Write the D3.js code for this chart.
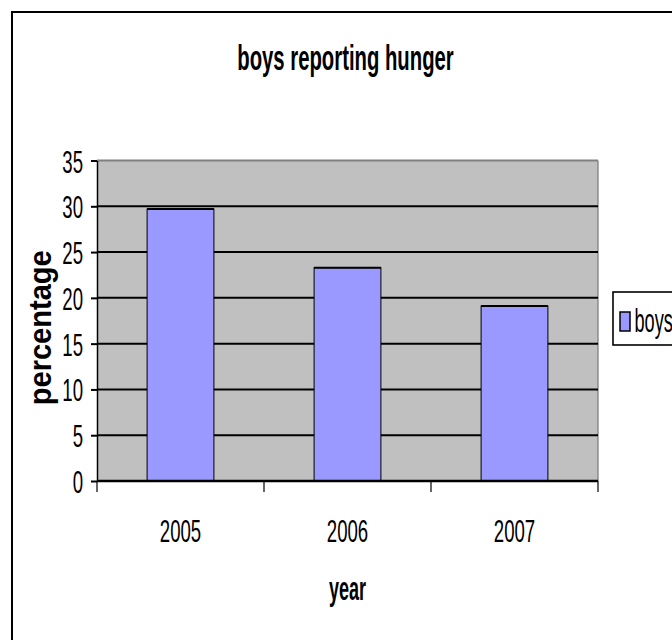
<!DOCTYPE html>
<html>
<head>
<meta charset="utf-8">
<script src="https://cdn.jsdelivr.net/npm/d3@7"></script>
<style>
  html, body { margin: 0; padding: 0; background: #fff; }
  svg { display: block; }
  text { font-family: "Liberation Sans", Arial, sans-serif; fill: #000; }
</style>
</head>
<body>
<script>
// Share of boys reporting hunger, by survey year
const years = ["2005", "2006", "2007"];
const boys = [29.7, 23.3, 19.1];
const yTicks = [0, 5, 10, 15, 20, 25, 30, 35];
const seriesName = "boys";

const W = 672, H = 640;
const plot = { left: 97, right: 598, top: 160.5, bottom: 481 };

const svg = d3.select("body").append("svg")
  .attr("width", W).attr("height", H);

// chart frame (right and bottom edges fall outside the page)
svg.append("rect")
  .attr("x", 12).attr("y", 12).attr("width", 760).attr("height", 700)
  .attr("fill", "#fff").attr("stroke", "#000").attr("stroke-width", 2);

const x = d3.scaleBand().domain(years)
  .range([plot.left, plot.right])
  .paddingInner(0.6).paddingOuter(0.3);
const y = d3.scaleLinear().domain([0, 35]).range([plot.bottom, plot.top]);

// plot background
svg.append("rect")
  .attr("x", plot.left).attr("y", plot.top)
  .attr("width", plot.right - plot.left).attr("height", plot.bottom - plot.top)
  .attr("fill", "#C0C0C0");
// grey top and right border of the plot area
svg.append("line").attr("x1", plot.left).attr("x2", plot.right)
  .attr("y1", y(35)).attr("y2", y(35))
  .attr("stroke", "#808080").attr("stroke-width", 2);
svg.append("line").attr("x1", plot.right).attr("x2", plot.right)
  .attr("y1", plot.top).attr("y2", plot.bottom)
  .attr("stroke", "#808080").attr("stroke-width", 1.3);

// horizontal gridlines
svg.append("g").selectAll("line")
  .data(yTicks.filter(v => v > 0 && v < 35))
  .join("line")
  .attr("x1", plot.left).attr("x2", plot.right)
  .attr("y1", d => y(d)).attr("y2", d => y(d))
  .attr("stroke", "#000").attr("stroke-width", 2);

// bars
const barData = years.map((yr, i) => ({ yr, v: boys[i] }));
const bars = svg.append("g");
bars.selectAll("rect")
  .data(barData)
  .join("rect")
  .attr("x", d => x(d.yr))
  .attr("y", d => y(d.v))
  .attr("width", x.bandwidth())
  .attr("height", d => y(0) - y(d.v))
  .attr("fill", "#9999FF")
  .attr("stroke", "#000").attr("stroke-width", 1);
bars.selectAll("line")
  .data(barData)
  .join("line")
  .attr("x1", d => x(d.yr)).attr("x2", d => x(d.yr) + x.bandwidth())
  .attr("y1", d => y(d.v)).attr("y2", d => y(d.v))
  .attr("stroke", "#000").attr("stroke-width", 2);

// y axis
const yAxis = svg.append("g")
  .attr("transform", `translate(${plot.left},0)`)
  .call(d3.axisLeft(y).tickValues(yTicks).tickSize(6).tickSizeOuter(0));
yAxis.select(".domain").attr("stroke", "#000").attr("stroke-width", 1.5);
yAxis.selectAll(".tick line").attr("stroke", "#000").attr("stroke-width", 2);
yAxis.selectAll(".tick text")
  .attr("x", null).attr("dy", null)
  .attr("text-anchor", "end")
  .attr("font-size", 31)
  .attr("transform", "translate(-14,11.5) scale(0.6,1)");

// x axis: line, boundary ticks and centred category labels
const step = x.step();
const bounds = years.map(yr => x(yr) - step * x.paddingInner() / 2).concat([plot.right]);
svg.append("line")
  .attr("x1", plot.left).attr("x2", plot.right)
  .attr("y1", plot.bottom).attr("y2", plot.bottom)
  .attr("stroke", "#000").attr("stroke-width", 2.5);
svg.append("g").selectAll("line").data(bounds).join("line")
  .attr("x1", d => d).attr("x2", d => d)
  .attr("y1", plot.bottom).attr("y2", plot.bottom + 11)
  .attr("stroke", "#000").attr("stroke-width", 1.2);
svg.append("g").selectAll("text").data(years).join("text")
  .attr("text-anchor", "middle")
  .attr("font-size", 31)
  .attr("transform", d => `translate(${x(d) + x.bandwidth() / 2},541.5) scale(0.6,1)`)
  .text(d => d);

// titles
svg.append("text")
  .attr("text-anchor", "middle").attr("font-weight", "bold").attr("font-size", 36)
  .attr("transform", "translate(345.5,69.5) scale(0.564,1)")
  .text("boys reporting hunger");

svg.append("text")
  .attr("text-anchor", "middle").attr("font-weight", "bold").attr("font-size", 34)
  .attr("transform", `translate(${(plot.left + plot.right) / 2},600) scale(0.53,1)`)
  .text("year");

svg.append("text")
  .attr("text-anchor", "middle").attr("font-weight", "bold").attr("font-size", 35)
  .attr("transform", `translate(51,${(plot.top + plot.bottom) / 2 + 7}) rotate(-90) scale(0.83,0.88)`)
  .text("percentage");

// legend
const lg = svg.append("g");
lg.append("rect")
  .attr("x", 613).attr("y", 292).attr("width", 120).attr("height", 53)
  .attr("fill", "#fff").attr("stroke", "#000").attr("stroke-width", 1.6);
lg.append("rect")
  .attr("x", 620).attr("y", 312).attr("width", 10).attr("height", 19)
  .attr("fill", "#9999FF").attr("stroke", "#000").attr("stroke-width", 1.5);
lg.append("text")
  .attr("font-size", 33)
  .attr("transform", "translate(634.5,331.5) scale(0.55,1)")
  .text(seriesName);
</script>
</body>
</html>
